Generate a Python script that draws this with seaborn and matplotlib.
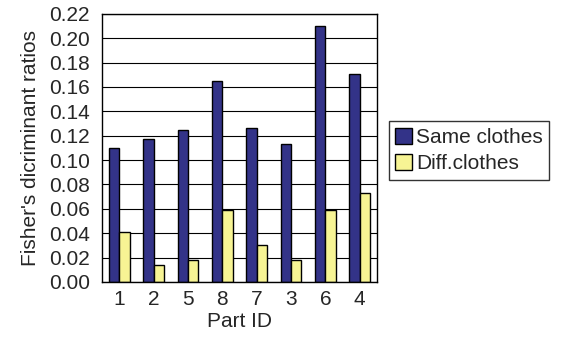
import matplotlib
matplotlib.use("Agg")
import matplotlib.pyplot as plt
import seaborn as sns
import pandas as pd
import numpy as np

# data
part_ids = ['1', '2', '5', '8', '7', '3', '6', '4']
same_clothes = [0.110, 0.117, 0.125, 0.165, 0.126, 0.113, 0.210, 0.171]
diff_clothes = [0.041, 0.014, 0.018, 0.059, 0.030, 0.018, 0.059, 0.073]
series_names = ['Same clothes', 'Diff.clothes']
y_ticks = [0.00, 0.02, 0.04, 0.06, 0.08, 0.10, 0.12, 0.14, 0.16, 0.18, 0.20, 0.22]

df = pd.DataFrame({
    'Part ID': part_ids * 2,
    'ratio': same_clothes + diff_clothes,
    'series': [series_names[0]] * len(part_ids) + [series_names[1]] * len(part_ids),
})

sns.set_style('white')
plt.rcParams['font.family'] = ['Liberation Sans', 'DejaVu Sans']
fs = 15

fig = plt.figure(figsize=(5.65, 3.38), dpi=100)
ax = fig.add_axes([0.181, 0.166, 0.486, 0.793])

ax.yaxis.grid(True, color='black', linewidth=0.8)
ax.set_axisbelow(True)

sns.barplot(data=df, x='Part ID', y='ratio', hue='series', order=part_ids,
            palette=['#333388', '#f7f494'], width=0.6, edgecolor='black',
            linewidth=1.0, saturation=1, ax=ax)

ax.set_ylim(0, 0.22)
ax.set_xlim(-0.5, len(part_ids) - 0.5)
ax.set_yticks(y_ticks)
ax.set_yticklabels([f'{v:.2f}' for v in y_ticks], fontsize=fs)
ax.tick_params(axis='x', labelsize=fs, length=0, pad=6)
ax.set_xticks(np.arange(0.5, len(part_ids) - 0.5, 1), minor=True)
ax.tick_params(axis='x', which='minor', direction='in', length=5, width=1, color='black')
ax.tick_params(axis='y', length=0, pad=9)

for s in ax.spines.values():
    s.set_color('black')
    s.set_linewidth(1.0)

ax.set_xlabel('Part ID', fontsize=fs, labelpad=2)
ax.set_ylabel("Fisher's dicriminant ratios", fontsize=fs, labelpad=6)

leg = ax.legend(loc='center left', bbox_to_anchor=(1.045, 0.49), fontsize=fs,
                frameon=True, fancybox=False, edgecolor='black',
                handlelength=0.8, handleheight=0.8, handletextpad=0.2,
                borderpad=0.3, labelspacing=0.35, borderaxespad=0)
leg.get_frame().set_linewidth(1.0)

fig.savefig('out.png', dpi=100)
